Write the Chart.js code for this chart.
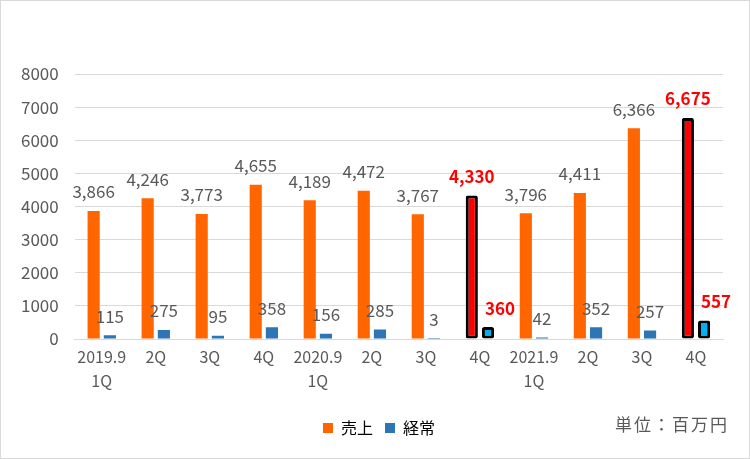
<!DOCTYPE html>
<html>
<head>
    <meta charset="utf-8">
    <title>売上・経常</title>
    <script src="https://cdn.jsdelivr.net/npm/chart.js"></script>
    <style>
        html, body { margin: 0; padding: 0; background: #fff; }
        #wrap { position: relative; width: 748px; height: 457px; border: 1px solid #d9d9d9; }
        #unit { position: absolute; right: 20px; top: 410px; font: 17px "Noto Sans CJK JP", sans-serif; color: #595959; letter-spacing: 2px; }
    </style>
</head>
<body>
    <div id="wrap">
        <canvas id="chart" width="748" height="457"></canvas>
        <div id="unit">単位：百万円</div>
    </div>

    <script>
        // quarters (two-line labels)
        const labels = [
            ['2019.9', '1Q'], '2Q', '3Q', '4Q',
            ['2020.9', '1Q'], '2Q', '3Q', '4Q',
            ['2021.9', '1Q'], '2Q', '3Q', '4Q'
        ];
        const sales = [3866, 4246, 3773, 4655, 4189, 4472, 3767, 4330, 3796, 4411, 6366, 6675];   // 売上
        const ordinary = [115, 275, 95, 358, 156, 285, 3, 360, 42, 352, 257, 557];              // 経常
        const highlight = [7, 11];   // full-year 4Q bars drawn in red / cyan

        const grey = '#595959';
        const font = '"Noto Sans CJK JP", sans-serif';

        const isHi = i => highlight.includes(i);
        const salesColors = sales.map((_, i) => isHi(i) ? '#ff0000' : '#ff6600');
        const ordColors = ordinary.map((_, i) => isHi(i) ? '#00b0f0' : '#2e75b6');
        const borderW = sales.map((_, i) => isHi(i) ? 3 : 0);
        const radius = sales.map((_, i) => isHi(i) ? 2 : 0);

        // value labels above each bar
        const valueLabels = {
            id: 'valueLabels',
            afterDatasetsDraw(chart) {
                const ctx = chart.ctx;
                ctx.save();
                ctx.textAlign = 'center';
                ctx.textBaseline = 'middle';
                chart.data.datasets.forEach((ds, di) => {
                    chart.getDatasetMeta(di).data.forEach((bar, i) => {
                        const hi = isHi(i);
                        ctx.font = (hi ? 'bold ' : '') + '17px ' + font;
                        ctx.fillStyle = hi ? '#ff0000' : grey;
                        const dx = (di === 1 && hi) ? 12 : 0;
                        ctx.fillText(ds.data[i].toLocaleString('en-US'), bar.x + dx, bar.y - 19);
                    });
                });
                ctx.restore();
            }
        };

        // nudge the legend a bit right of the canvas centre, like the original
        const legendShift = {
            id: 'legendShift',
            afterLayout(chart) {
                chart.legend.left += 15;
                chart.legend.right += 15;
            }
        };

        new Chart(document.getElementById('chart'), {
            type: 'bar',
            data: {
                labels: labels,
                datasets: [{
                    label: '売上',
                    data: sales,
                    backgroundColor: salesColors,
                    borderColor: '#000',
                    borderWidth: borderW,
                    borderRadius: radius,
                    borderSkipped: false,
                    barPercentage: 0.75,
                    categoryPercentage: 0.6
                }, {
                    label: '経常',
                    data: ordinary,
                    backgroundColor: ordColors,
                    borderColor: '#000',
                    borderWidth: borderW,
                    borderRadius: radius,
                    borderSkipped: false,
                    barPercentage: 0.75,
                    categoryPercentage: 0.6
                }]
            },
            options: {
                responsive: false,
                animation: false,
                layout: { padding: { left: 4, right: 26, top: 73, bottom: 12 } },
                plugins: {
                    tooltip: { enabled: false },
                    legend: {
                        position: 'bottom',
                        labels: {
                            color: grey,
                            font: { family: font, size: 16 },
                            boxWidth: 10,
                            boxHeight: 10,
                            padding: 12,
                            generateLabels: chart => chart.data.datasets.map((ds, i) => ({
                                text: ds.label,
                                fillStyle: i === 0 ? '#ff6600' : '#2e75b6',
                                strokeStyle: i === 0 ? '#ff6600' : '#2e75b6',
                                lineWidth: 0,
                                datasetIndex: i
                            }))
                        }
                    }
                },
                scales: {
                    x: {
                        grid: { display: false, drawTicks: false },
                        border: { color: '#d9d9d9', width: 1 },
                        ticks: { color: grey, font: { family: font, size: 16, lineHeight: 1.5 }, maxRotation: 0, autoSkip: false, padding: 6 },
                        afterFit(scale) { scale.height += 9; }
                    },
                    y: {
                        min: 0,
                        max: 8000,
                        ticks: { stepSize: 1000, color: grey, font: { family: font, size: 17 }, padding: 16, callback: v => String(v) },
                        grid: { color: '#d9d9d9', drawTicks: false },
                        border: { display: false }
                    }
                }
            },
            plugins: [valueLabels, legendShift]
        });
    </script>
</body>
</html>
